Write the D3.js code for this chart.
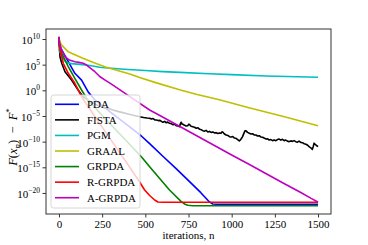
<!DOCTYPE html>
<html><head><meta charset="utf-8">
<script src="https://cdn.jsdelivr.net/npm/d3@7"></script>
<style>body{margin:0;background:#fff}svg{display:block}</style>
</head><body>
<svg id="c" width="368" height="245"></svg>
<script>
// ---- data (iterations, log10 of F(x_n)-F*) ----
const seriesNames = ["PDA","FISTA","PGM","GRAAL","GRPDA","R-GRPDA","A-GRPDA"];
const seriesColors = ["#0000ff","#000000","#00bfbf","#bfbf00","#008000","#ff0000","#bf00bf"];

const pdaIter = [0,4,16,54,92,131,169,208,300,400,477,525,600,680,756,820,870,890,910,1000,1250,1500];
const pdaLog  = [10.4,8.8,7.86,5.58,3.32,2.0,-0.3,-1.88,-4.3,-6.9,-8.9,-10.4,-12.8,-15.3,-17.8,-19.9,-21.7,-22.15,-22.2,-22.2,-22.2,-22.2];

const fistaIter = [0,2,6,16,35,73,111,140,180,220,265,290,313,340,370,400,430,467,490,510,
 525,535,545,555,564,575,585,595,602,612,620,630,640,650,660,670,679,690,698,703,708,713,717,727,737,745,752,756,765,775,785,795,805,815,825,833,843,852,862,872,881,891,900,910,920,930,938,944,948,958,968,978,987,997,1006,1016,1025,1035,1044,1052,1058,1063,1073,1078,1083,1092,1102,1112,1121,1130,1140,1150,1160,1170,1179,1190,1200,1208,1217,1227,1237,1246,1256,1265,1275,1285,1294,1304,1313,1323,1333,1342,1352,1361,1371,1381,1390,1400,1410,1420,1430,1440,1448,1458,1467,1472,1477,1482,1487,1493,1500];
const fistaLog = [10.4,8.6,6.55,5.27,3.63,2.0,0.06,-1.24,-2.2,-2.85,-3.45,-3.6,-3.85,-4.1,-4.35,-4.6,-4.85,-5.15,-5.3,-5.4,
 -5.45,-5.6,-5.5,-5.75,-5.78,-5.9,-5.85,-6.1,-6.23,-6.05,-6.3,-6.2,-6.43,-6.5,-6.7,-6.6,-6.89,-6.95,-7.08,-6.5,-6.23,-6.6,-6.62,-6.8,-6.95,-6.9,-6.6,-6.69,-7.0,-7.08,-7.2,-7.4,-7.3,-7.6,-7.7,-7.86,-7.95,-7.8,-8.12,-8.0,-8.2,-8.1,-8.3,-8.25,-8.4,-8.3,-8.38,-8.1,-8.12,-8.5,-8.7,-8.8,-9.03,-9.1,-9.0,-9.3,-9.35,-9.6,-9.87,-9.6,-9.3,-9.03,-8.2,-7.86,-7.9,-8.2,-8.38,-8.5,-8.45,-8.7,-8.7,-8.9,-8.85,-9.1,-9.15,-9.35,-9.5,-9.45,-9.68,-9.6,-9.8,-9.7,-9.81,-9.6,-9.5,-9.7,-9.55,-9.8,-9.7,-9.9,-10.0,-9.85,-9.95,-9.8,-10.0,-10.1,-9.9,-10.15,-10.2,-10.4,-10.5,-10.7,-10.98,-11.2,-11.5,-11.0,-10.3,-10.5,-10.65,-10.8,-10.98];

const pgmIter = [0,8,20,35,50,73,120,169,236,300,400,500,600,700,871,1000,1200,1500];
const pgmLog  = [8.0,7.3,6.5,5.7,5.35,5.2,5.05,4.9,4.49,4.3,4.05,3.85,3.65,3.5,3.24,3.05,2.8,2.54];

const graalIter = [0,3,12,16,54,82,135,200,265,294,410,467,560,698,800,929,1100,1300,1500];
const graalLog  = [10.45,9.8,9.0,8.8,7.5,7.1,6.3,5.4,4.6,4.3,3.2,2.5,1.5,0.12,-0.8,-1.85,-3.4,-5.1,-6.9];

const grpdaIter = [0,4,16,54,92,131,160,250,350,477,525,640,708,730,746,775,1000,1250,1500];
const grpdaLog  = [10.4,8.6,7.2,4.6,2.34,0.06,-1.55,-4.9,-8.4,-12.93,-14.88,-19.42,-21.7,-22.2,-22.4,-22.48,-22.48,-22.48,-22.48];

const rgrpdaIter = [0,3,6,25,54,92,131,200,300,400,467,496,525,554,573,600,1000,1250,1500];
const rgrpdaLog  = [10.4,8.8,7.86,5.27,3.32,1.37,-1.24,-4.7,-9.6,-14.5,-17.86,-19.42,-20.5,-21.37,-21.76,-21.81,-21.81,-21.81,-21.81];

const agrpdaIter = [0,3,16,35,60,92,115,140,160,208,236,265,304,400,525,600,700,800,900,1000,1100,1200,1300,1400,1460,1496,1500];
const agrpdaLog  = [10.45,9.2,7.86,6.55,5.9,5.58,5.45,5.27,4.93,3.63,2.7,2.05,1.2,-1.0,-3.83,-5.2,-7.05,-8.9,-10.75,-12.6,-14.4,-16.25,-18.1,-19.9,-21.05,-21.7,-21.8];

const xTicks = [0,250,500,750,1000,1250,1500];
const yTickExps = [10,5,0,-5,-10,-15,-20];

const seriesIters = [pdaIter,fistaIter,pgmIter,graalIter,grpdaIter,rgrpdaIter,agrpdaIter];
const seriesLogs  = [pdaLog,fistaLog,pgmLog,graalLog,grpdaLog,rgrpdaLog,agrpdaLog];

// ---- layout ----
const L=46, R=331, T=29, B=214;
const svg = d3.select("#c");
const font = "'Liberation Serif','Times New Roman',serif";

const x = d3.scaleLinear().domain([-75,1575]).range([L,R]);
const y = d3.scaleLog().domain([Math.pow(10,-24.1),Math.pow(10,11.95)]).range([B,T]);

svg.append("defs").append("clipPath").attr("id","clip")
  .append("rect").attr("x",L).attr("y",T).attr("width",R-L).attr("height",B-T);

const line = d3.line().x(d=>x(d[0])).y(d=>y(d[1]));
const g = svg.append("g").attr("clip-path","url(#clip)");
seriesNames.forEach((n,i)=>{
  const pts = seriesIters[i].map((it,k)=>[it, Math.pow(10, seriesLogs[i][k])]);
  g.append("path").datum(pts).attr("d",line)
    .attr("fill","none").attr("stroke",seriesColors[i]).attr("stroke-width",1.6)
    .attr("stroke-linejoin","round");
});

// axes
const xAxis = svg.append("g").attr("transform",`translate(0,${B})`)
  .call(d3.axisBottom(x).tickValues(xTicks).tickSize(3.5).tickPadding(3).tickFormat(d3.format("d")));
const yAxis = svg.append("g").attr("transform",`translate(${L},0)`)
  .call(d3.axisLeft(y).tickValues(yTickExps.map(e=>Math.pow(10,e))).tickSize(3.5).tickFormat(()=>""));
[xAxis,yAxis].forEach(a=>{
  a.select(".domain").remove();
  a.selectAll("line").attr("stroke","#000").attr("stroke-width",0.8);
  a.selectAll("text").attr("font-family",font).attr("font-size",11).attr("fill","#000");
});
// y tick labels with superscripts
yAxis.selectAll(".tick").each(function(d,i){
  const e = yTickExps[i];
  const t = d3.select(this).select("text").attr("x",-6).attr("dy",null).attr("y",4.5).attr("text-anchor","end");
  t.text(null);
  t.append("tspan").text("10");
  t.append("tspan").attr("dy",-5).attr("font-size",7.5).text(e<0 ? "\u2212"+(-e) : String(e));
});

// frame
svg.append("rect").attr("x",L).attr("y",T).attr("width",R-L).attr("height",B-T)
  .attr("fill","none").attr("stroke","#333").attr("stroke-width",1);

// axis labels
svg.append("text").attr("x",(L+R)/2).attr("y",239).attr("text-anchor","middle")
  .attr("font-family",font).attr("font-size",11).text("iterations, n");

const yl = svg.append("text").attr("transform","translate(17,137) rotate(-90)")
  .attr("text-anchor","middle").attr("font-family",font).attr("font-size",12.5);
yl.append("tspan").attr("font-style","italic").text("F");
yl.append("tspan").text("(");
yl.append("tspan").attr("font-style","italic").text("x");
yl.append("tspan").attr("font-style","italic").attr("font-size",9).attr("dy",2.8).text("n");
yl.append("tspan").attr("dy",-2.8).text(")\u2002\u2212\u2002");
yl.append("tspan").attr("font-style","italic").text("F");
yl.append("tspan").attr("font-size",9).attr("dy",-5).text("*");

// legend
const lg = svg.append("g");
lg.append("rect").attr("x",51).attr("y",95).attr("width",89).attr("height",113).attr("rx",2.5)
  .attr("fill","#fff").attr("fill-opacity",0.8).attr("stroke","#cccccc").attr("stroke-width",0.8);
seriesNames.forEach((n,i)=>{
  const yy = 104.3 + i*15.57;
  lg.append("line").attr("x1",55).attr("x2",79).attr("y1",yy).attr("y2",yy)
    .attr("stroke",seriesColors[i]).attr("stroke-width",1.6);
  lg.append("text").attr("x",87).attr("y",yy+3.8).attr("font-family",font).attr("font-size",11).text(n);
});
</script>
</body></html>
